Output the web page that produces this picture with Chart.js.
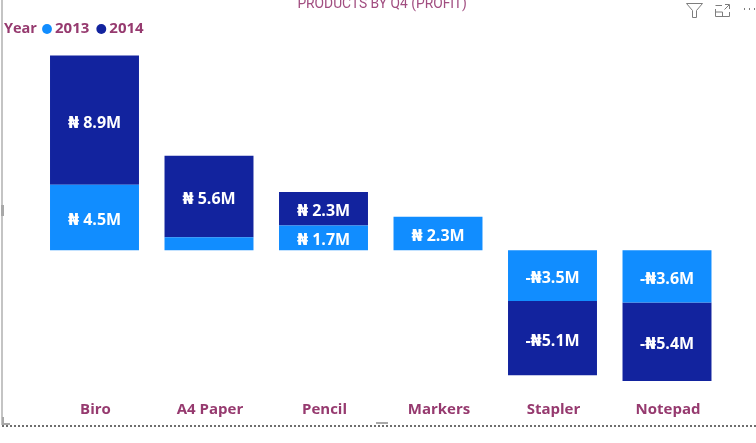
<!DOCTYPE html>
<html>
<head>
<meta charset="utf-8">
<style>
html,body{margin:0;padding:0;background:#fff;width:756px;height:443px;overflow:hidden}
#wrap{position:relative;width:756px;height:443px}
canvas{position:absolute;left:0;top:0}
.frameL{position:absolute;left:1px;top:0;width:2px;height:425px;background:#c4c4c4}
.frameB{position:absolute;left:2px;top:425px;width:754px;height:0;border-top:2px dotted #6e6e6e}
.h{position:absolute;background:#a8a8a8}
svg{position:absolute;top:0;left:0}
</style>
</head>
<body>
<div id="wrap">
<canvas id="c" width="756" height="443"></canvas>
<div class="frameL"></div>
<div class="frameB"></div>
<div class="h" style="left:2px;top:423px;width:8px;height:2px"></div>
<div class="h" style="left:2px;top:417px;width:2px;height:7px"></div>
<div class="h" style="left:376px;top:422px;width:12px;height:2px"></div>
<div class="h" style="left:1px;top:205px;width:3px;height:11px"></div>
<svg width="756" height="40" fill="none" stroke="#7d7d7d" stroke-width="1">
<path d="M686.5 3.5H702.5L696.5 10.5V17.5H692.5V10.5Z"/>
<path d="M715.5 9V16.5H729.5V12M715.5 12H722.5V16.5M715.5 5.5H722M725 4.5H729.5V9M729 5L724.5 9.5"/>
<path d="M744 9h1M749 9h1M754 9h1" stroke-width="2"/>
</svg>
</div>
<script src="https://cdn.jsdelivr.net/npm/chart.js@4"></script>
<script>
const categories = ['Biro','A4 Paper','Pencil','Markers','Stapler','Notepad'];
const series2013 = [4.5, 0.9, 1.7, 2.3, -3.5, -3.6];
const series2014 = [8.9, 5.6, 2.3, null, -5.1, -5.4];
const labelFloor = 1;
const purple = '#963A6F';
const fontFamily = '"Open Sans","DejaVu Sans",sans-serif';

function money(v){
  const a = Math.abs(v).toFixed(1);
  return v < 0 ? '-₦' + a + 'M' : '₦ ' + a + 'M';
}

const barLabels = {
  id:'barLabels',
  afterDatasetsDraw(chart){
    const ctx = chart.ctx;
    ctx.save();
    ctx.fillStyle = '#fff';
    ctx.font = '700 16px ' + fontFamily;
    ctx.textAlign = 'center';
    ctx.textBaseline = 'middle';
    chart.data.datasets.forEach((ds,i)=>{
      chart.getDatasetMeta(i).data.forEach((bar,j)=>{
        const v = ds.data[j];
        if (v === null || Math.abs(v) < labelFloor) return;
        ctx.fillText(money(v), bar.x, (bar.y + bar.base)/2 + 3);
      });
    });
    ctx.restore();
  }
};

const legendPrefix = {
  id:'legendPrefix',
  afterLayout(chart){
    chart.legend.left = 35;
    chart.titleBlock.left += 20;
    chart.titleBlock.right += 20;
  },
  afterDraw(chart){
    const ctx = chart.ctx;
    ctx.save();
    ctx.fillStyle = purple;
    ctx.font = '700 14.5px ' + fontFamily;
    ctx.textAlign = 'left';
    ctx.textBaseline = 'middle';
    ctx.fillText('Year', 4, 29);
    ctx.restore();
  }
};

new Chart(document.getElementById('c'), {
  type:'bar',
  data:{
    labels:categories,
    datasets:[
      {label:'2013', data:series2013, backgroundColor:'#118DFF', stack:'s'},
      {label:'2014', data:series2014, backgroundColor:'#12239E', stack:'s'}
    ]
  },
  options:{
    responsive:false,
    animation:false,
    devicePixelRatio:1,
    layout:{padding:{left:0,right:31.75,top:0,bottom:0}},
    datasets:{bar:{categoryPercentage:1,barPercentage:0.777}},
    plugins:{
      tooltip:{enabled:false},
      title:{
        display:true,
        text:'PRODUCTS BY Q4 (PROFIT)',
        color:'#A14E80',
        font:{family:'"Roboto",sans-serif',size:13.8,weight:'400'},
        padding:{top:-3.3,bottom:-3.26}
      },
      legend:{
        display:true,
        position:'top',
        align:'start',
        labels:{
          usePointStyle:true,
          pointStyle:'circle',
          boxWidth:1,
          boxHeight:7,
          padding:11.5,
          color:purple,
          font:{family:fontFamily,size:15,weight:'700'}
        }
      }
    },
    scales:{
      x:{
        stacked:true,
        grid:{display:false},
        border:{display:false},
        ticks:{color:purple,font:{family:fontFamily,size:15,weight:'700'},padding:5,labelOffset:1,maxRotation:0},
        afterFit(s){ s.height = 55; }
      },
      y:{
        stacked:true,
        min:-9.48,
        max:14.02,
        grid:{display:false},
        border:{display:false},
        ticks:{display:false},
        afterFit(s){ s.width = 37.25; }
      }
    }
  },
  plugins:[barLabels,legendPrefix]
});
</script>
</body>
</html>
